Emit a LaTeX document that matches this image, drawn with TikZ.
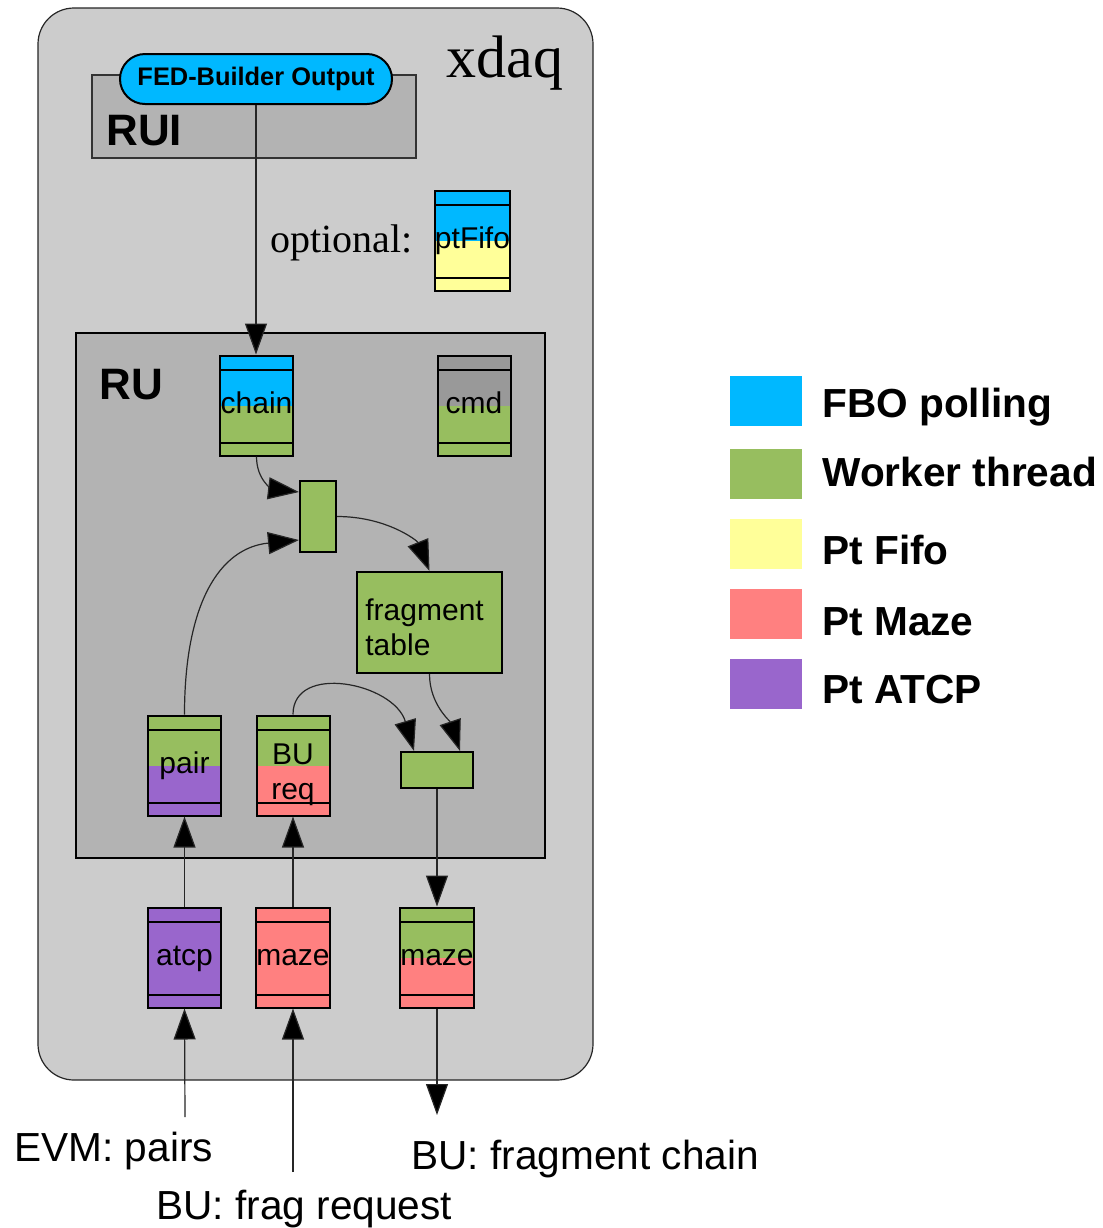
\documentclass[tikz,border=0pt]{standalone}
\usepackage{fontspec}
\setmainfont{Liberation Sans}
\newfontfamily\timesfont{Liberation Serif}
\usetikzlibrary{arrows.meta}

\definecolor{fbo}{RGB}{0,184,255}
\definecolor{worker}{RGB}{151,190,95}
\definecolor{ptfifo}{RGB}{255,255,153}
\definecolor{ptmaze}{RGB}{255,128,128}
\definecolor{ptatcp}{RGB}{153,102,204}
\definecolor{cmdgray}{RGB}{153,153,153}
\definecolor{outergray}{RGB}{204,204,204}
\definecolor{innergray}{RGB}{179,179,179}

\tikzset{
  % a message queue: upper half / lower half colours, with two stripes
  queue/.style 2 args={draw, line width=1pt, minimum width=36.5pt,
    minimum height=50pt, inner sep=0pt, text height=11pt, text depth=3.5pt,
    font=\fontsize{15}{17}\selectfont,
    path picture={
      \fill[#1] (path picture bounding box.north west) rectangle (path picture bounding box.east);
      \fill[#2] (path picture bounding box.west) rectangle (path picture bounding box.south east);
      \draw[line width=1pt] ([yshift=-7pt]path picture bounding box.north west) -- ([yshift=-7pt]path picture bounding box.north east);
      \draw[line width=1pt] ([yshift=6.5pt]path picture bounding box.south west) -- ([yshift=6.5pt]path picture bounding box.south east);
    }},
  worker box/.style={draw, fill=worker, line width=1pt, inner sep=0pt},
  box text/.style={inner sep=0pt, font=\fontsize{15}{17.5}\selectfont},
  flow/.style={line width=0.6pt, draw=black!85, -{Triangle[length=15.5pt,width=11pt,fill=black]}},
  swatch/.style={minimum width=36pt, minimum height=25pt, inner sep=0pt, draw=none},
  legend text/.style={anchor=base west, inner sep=0pt, font=\fontsize{20.3}{24}\selectfont\bfseries},
  io text/.style={anchor=base west, inner sep=0pt, font=\fontsize{20.3}{22}\selectfont},
  title text/.style={anchor=base west, inner sep=0pt, font=\fontsize{22}{24}\selectfont\bfseries},
}

\begin{document}
\begin{tikzpicture}[x=0.5pt,y=-0.5pt]
  \useasboundingbox[fill=white] (0,0) rectangle (1103,1228);

  % xdaq executive
  \node (xdaq) [draw=black!85, line width=0.6pt, fill=outergray, rounded corners=18pt,
    minimum width=277.5pt, minimum height=536pt, inner sep=0pt] at (315.5,544) {};
  \node (xdaqlabel) [anchor=base west, inner sep=0pt, font=\timesfont\fontsize{30}{32}\selectfont]
    at (446,77) {xdaq};

  % RUI
  \node (rui) [draw=black!80, line width=0.8pt, fill=innergray, minimum width=162pt,
    minimum height=41.5pt, inner sep=0pt] at (254,116.5) {};
  \node (ruilabel) [title text] at (106,145) {RUI};
  \node (fbo) [draw, line width=1pt, fill=fbo, rounded corners=12.5pt, minimum width=136pt,
    minimum height=25pt, inner sep=0pt, font=\fontsize{12.7}{14}\selectfont\bfseries]
    at (256,79) {FED-Builder Output};

  % optional Pt Fifo
  \node (optional) [anchor=base west, inner sep=0pt, font=\timesfont\fontsize{20}{24}\selectfont]
    at (270,252) {optional:};
  \node (ptfifo) [queue={fbo}{ptfifo}] at (472.5,240.5) {ptFifo};

  % RU
  \node (ru) [draw, line width=1pt, fill=innergray, minimum width=234.5pt,
    minimum height=262.5pt, inner sep=0pt] at (310.5,595.5) {};
  \node (rulabel) [title text] at (99,399) {RU};

  \node (chain) [queue={fbo}{worker}] at (256.5,405.5) {chain};
  \node (cmd) [queue={cmdgray}{worker}] at (474,406) {cmd};
  \node (merge) [worker box, minimum width=18pt, minimum height=35.5pt] at (318,516.5) {};
  \node (frag) [worker box, minimum width=72.5pt, minimum height=50.5pt] at (429.5,622.5) {};
  \node (fragtext) [box text, anchor=base west] at (365,620) {fragment};
  \node (fragtext2) [box text, anchor=base west] at (365,655) {table};
  \node (pair) [queue={worker}{ptatcp}] at (184.5,765.5) {pair};
  \node (bureq) [queue={worker}{ptmaze}] at (293,765.5) {};
  \node (butext) [box text, anchor=base] at (293,764) {BU};
  \node (reqtext) [box text, anchor=base] at (293,799) {req};
  \node (dispatch) [worker box, minimum width=36pt, minimum height=18pt] at (437,770) {};

  % peer transports
  \node (atcp) [queue={ptatcp}{ptatcp}] at (184.5,957.5) {atcp};
  \node (mazein) [queue={ptmaze}{ptmaze}] at (293,957.5) {maze};
  \node (mazeout) [queue={worker}{ptmaze}] at (437,957.5) {maze};

  % external ends
  \coordinate (evm) at (185,1117);
  \coordinate (bufrag) at (293,1172);
  \coordinate (buchain) at (437,1115);
  \node (evmlabel) [io text] at (14,1161) {EVM: pairs};
  \node (bufraglabel) [io text] at (156,1219) {BU: frag request};
  \node (buchainlabel) [io text] at (411,1169) {BU: fragment chain};

  % connectors
  \draw[flow] (fbo.south) -- (fbo.south |- chain.north);
  \draw[flow] (chain.south) .. controls +(0,25) and +(-25,-3) .. ([yshift=-6pt]merge.north west);
  \draw[flow] (pair.north) .. controls +(0,-110) and +(-80,8) .. ([yshift=6.5pt]merge.south west);
  \draw[flow] (merge.east) .. controls +(50,0) and +(-12,-30) .. (frag.north);
  \draw[flow] (bureq.north) .. controls +(0,-52) and +(-20,-68) .. ([xshift=7pt]dispatch.north west);
  \draw[flow] (frag.south) .. controls +(0,30) and +(-10,-30) .. ([xshift=-7pt]dispatch.north east);
  \draw[flow] (dispatch.south) -- (mazeout.north);
  \draw[flow] (atcp.north) -- (pair.south);
  \draw[flow] (mazein.north) -- (bureq.south);
  \draw[flow] (evm) -- (atcp.south);
  \draw[flow] (bufrag) -- (mazein.south);
  \draw[flow] (mazeout.south) -- (buchain);

  % legend
  \node (swfbo) [swatch, fill=fbo] at (766,400.5) {};
  \node (swworker) [swatch, fill=worker] at (766,474) {};
  \node (swfifo) [swatch, fill=ptfifo] at (766,544) {};
  \node (swmaze) [swatch, fill=ptmaze] at (766,614) {};
  \node (swatcp) [swatch, fill=ptatcp] at (766,684) {};
  \node (lgfbo) [legend text] at (822,417) {FBO polling};
  \node (lgworker) [legend text] at (822,486) {Worker thread};
  \node (lgfifo) [legend text] at (822,564) {Pt Fifo};
  \node (lgmaze) [legend text] at (822,635) {Pt Maze};
  \node (lgatcp) [legend text] at (822,703) {Pt ATCP};
\end{tikzpicture}
\end{document}
